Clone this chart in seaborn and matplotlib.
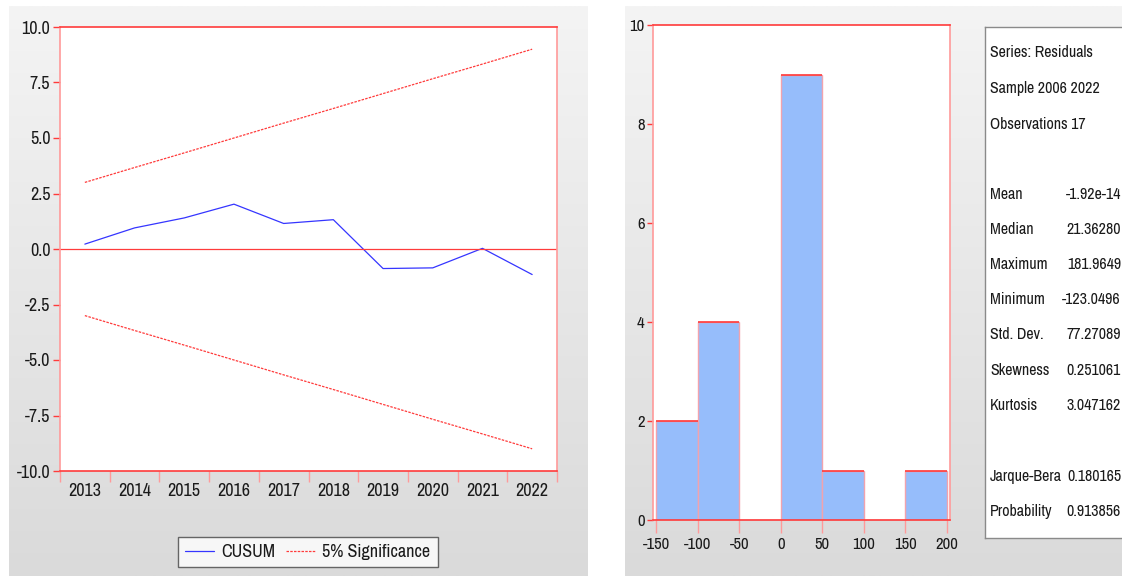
import numpy as np
import pandas as pd
import matplotlib
matplotlib.use("Agg")
import matplotlib.pyplot as plt
from matplotlib import font_manager
from matplotlib.lines import Line2D
import seaborn as sns

# ---- data -------------------------------------------------------------
years = [2013, 2014, 2015, 2016, 2017, 2018, 2019, 2020, 2021, 2022]
cusum = [0.22, 0.95, 1.40, 2.02, 1.15, 1.32, -0.88, -0.85, 0.03, -1.15]
upper_5pct = [3.00, 3.67, 4.33, 5.00, 5.67, 6.33, 7.00, 7.67, 8.33, 9.00]
lower_5pct = [-3.00, -3.67, -4.33, -5.00, -5.67, -6.33, -7.00, -7.67, -8.33, -9.00]

bin_edges = [-150, -100, -50, 0, 50, 100, 150, 200]
bin_counts = [2, 4, 0, 9, 1, 0, 1]

stats_header = ["Series: Residuals", "Sample 2006 2022", "Observations 17"]
stats_names = ["Mean", "Median", "Maximum", "Minimum", "Std. Dev.", "Skewness", "Kurtosis"]
stats_values = ["-1.92e-14", "21.36280", "181.9649", "-123.0496", "77.27089", "0.251061", "3.047162"]
test_names = ["Jarque-Bera", "Probability"]
test_values = ["0.180165", "0.913856"]

# ---- style ------------------------------------------------------------
sns.set_theme(style="white")
available = {f.name for f in font_manager.fontManager.ttflist}
narrow_choices = ["Liberation Sans Narrow", "Arial Narrow", "Archivo Narrow", "PT Sans Narrow",
                  "Roboto Condensed", "Open Sans Condensed", "Fira Sans Condensed",
                  "Sofia Sans Condensed", "Liberation Sans"]
narrow = next(n for n in narrow_choices if n in available)
plt.rcParams["font.family"] = [narrow, "DejaVu Sans"]

RED = "#ff3b3b"
PINK = "#ff9a9a"
BLUE = "#3535ff"
BAR = "#96bdfb"
TXT = "#1a1a1a"

W, H = 1122, 576
fig = plt.figure(figsize=(W / 100, H / 100), dpi=100)
fig.patch.set_facecolor("white")


def px(x0, y0, x1, y1):
    return [x0 / W, 1 - y1 / H, (x1 - x0) / W, (y1 - y0) / H]


# grey gradient panels behind each chart
grad = np.linspace(0, 1, 256).reshape(-1, 1)
panel_cmap = matplotlib.colors.LinearSegmentedColormap.from_list("panel", ["#f4f4f4", "#dadada"])
for box in (px(9, 6, 588, 576), px(625, 6, 1122, 576)):
    bg = fig.add_axes(box, zorder=-10)
    bg.imshow(grad, aspect="auto", cmap=panel_cmap, extent=(0, 1, 0, 1))
    bg.set_axis_off()

# ---- CUSUM test -------------------------------------------------------
ax = fig.add_axes(px(60, 27, 557, 471))
df = pd.DataFrame({"year": years, "cusum": cusum, "upper": upper_5pct, "lower": lower_5pct})
sns.lineplot(data=df, x="year", y="cusum", ax=ax, color=BLUE, lw=0.9)
sns.lineplot(data=df, x="year", y="upper", ax=ax, color=RED, lw=0.9, linestyle=(0, (2.0, 1.0)))
sns.lineplot(data=df, x="year", y="lower", ax=ax, color=RED, lw=0.9, linestyle=(0, (2.0, 1.0)))
ax.axhline(0, color=RED, lw=0.9)
ax.set_xlim(years[0] - 0.5, years[-1] + 0.5)
ax.set_ylim(-10, 10)
ax.set_xlabel("")
ax.set_ylabel("")
ax.set_facecolor("white")
ax.set_xticks(np.arange(years[0] - 0.5, years[-1] + 1, 1.0))
ax.set_xticklabels([])
ax.set_xticks(years, minor=True)
ax.set_xticklabels([str(y) for y in years], minor=True)
ax.tick_params(axis="x", which="major", length=8, width=1, color=PINK, direction="out", bottom=True)
ax.tick_params(axis="x", which="minor", length=0, labelsize=13, pad=9, labelcolor=TXT)
yt = np.arange(-10, 10.1, 2.5)
ax.set_yticks(yt)
ax.set_yticklabels([f"{v:.1f}" for v in yt])
ax.tick_params(axis="y", length=5, width=1, color=RED, direction="out", left=True,
               labelsize=13, pad=2, labelcolor=TXT)
for side, c in (("top", RED), ("bottom", RED), ("left", PINK), ("right", PINK)):
    ax.spines[side].set_color(c)
    ax.spines[side].set_linewidth(1.2)

handles = [Line2D([], [], color=BLUE, lw=0.9),
           Line2D([], [], color=RED, lw=0.9, linestyle=(0, (2.0, 1.0)))]
leg = fig.legend(handles, ["CUSUM", "5% Significance"], ncol=2,
                 loc="center", bbox_to_anchor=(308 / W, 1 - 552 / H),
                 frameon=True, fancybox=False, edgecolor="#444444", fontsize=13,
                 handlelength=1.6, columnspacing=0.6, handletextpad=0.4,
                 borderpad=0.4, borderaxespad=0)
leg.get_frame().set_linewidth(1.0)
for t in leg.get_texts():
    t.set_color(TXT)

# ---- residual histogram -----------------------------------------------
hx = fig.add_axes(px(653, 25, 950, 520))
centers = [(a + b) / 2 for a, b in zip(bin_edges[:-1], bin_edges[1:])]
hist_df = pd.DataFrame({"resid": centers, "count": bin_counts})
sns.histplot(data=hist_df, x="resid", weights="count", bins=bin_edges, ax=hx,
             color=BAR, alpha=1.0, edgecolor="#f2a3ad", linewidth=1.0)
for p in hx.patches:
    if p.get_height() > 0:
        hx.plot([p.get_x(), p.get_x() + p.get_width()], [p.get_height()] * 2,
                color=RED, lw=1.2, solid_capstyle="butt")
hx.set_xlim(-154, 204)
hx.set_ylim(0, 10)
hx.set_xlabel("")
hx.set_ylabel("")
hx.set_facecolor("white")
hx.set_xticks(bin_edges)
hx.set_xticklabels([str(v) for v in bin_edges])
hx.set_yticks([0, 2, 4, 6, 8, 10])
hx.tick_params(axis="x", length=9, width=1, color=PINK, direction="out", bottom=True,
               labelsize=12, pad=3, labelcolor=TXT)
hx.tick_params(axis="y", length=4, width=1, color=RED, direction="out", left=True,
               labelsize=12, pad=2, labelcolor=TXT)
for side, c in (("top", RED), ("bottom", RED), ("left", PINK), ("right", PINK)):
    hx.spines[side].set_color(c)
    hx.spines[side].set_linewidth(1.2)

# ---- summary statistics box ---------------------------------------------
sx = fig.add_axes(px(985, 27, 1130, 538))
sx.set_xlim(985, 1130)
sx.set_ylim(538, 27)
sx.set_xticks([])
sx.set_yticks([])
sx.set_facecolor("white")
for s in sx.spines.values():
    s.set_color("#8a8a8a")
    s.set_linewidth(1.0)
fs = 11.5
for y, t in zip([52, 88, 124], stats_header):
    sx.text(990, y, t, fontsize=fs, va="center", ha="left", color=TXT)
for i, (n, v) in enumerate(zip(stats_names, stats_values)):
    y = 194 + i * 35.2
    sx.text(990, y, n, fontsize=fs, va="center", ha="left", color=TXT)
    sx.text(1121, y, v, fontsize=fs, va="center", ha="right", color=TXT)
for i, (n, v) in enumerate(zip(test_names, test_values)):
    y = 476 + i * 35
    sx.text(990, y, n, fontsize=fs, va="center", ha="left", color=TXT)
    sx.text(1121, y, v, fontsize=fs, va="center", ha="right", color=TXT)

fig.savefig("out.png", dpi=100)
